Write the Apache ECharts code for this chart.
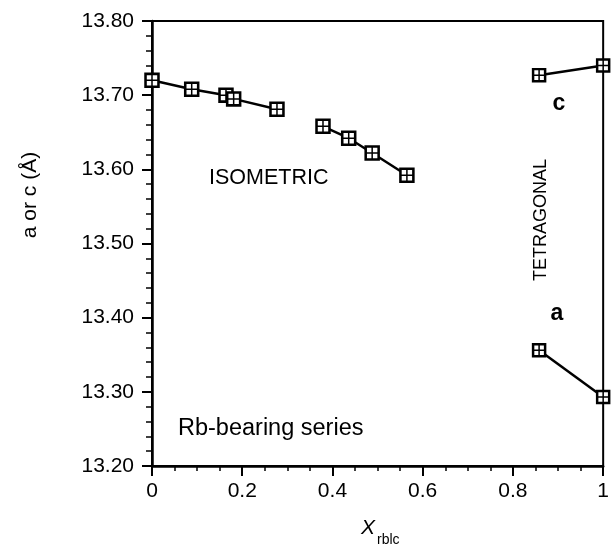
<!DOCTYPE html>
<html>
<head>
<meta charset="utf-8">
<script src="https://cdn.jsdelivr.net/npm/echarts@6/dist/echarts.min.js"></script>
<style>
html,body{margin:0;padding:0;background:#fff;}
#chart{width:612px;height:547px;}
</style>
</head>
<body>
<div id="chart"></div>
<script>
// ---- data ----
var isoX1 = [0, 0.088, 0.164, 0.181, 0.277];
var isoY1 = [13.720, 13.708, 13.700, 13.695, 13.681];
var isoX2 = [0.379, 0.436, 0.488, 0.565];
var isoY2 = [13.658, 13.642, 13.622, 13.592];
var tetX = [0.858, 1.0];
var tetC = [13.727, 13.740];
var tetA = [13.356, 13.293];
var xTickLabels = ['0', '0.2', '0.4', '0.6', '0.8', '1'];
var yTickLabels = ['13.20', '13.30', '13.40', '13.50', '13.60', '13.70', '13.80'];

function pairs(xs, ys) { return xs.map(function (x, i) { return [x, ys[i]]; }); }

var FONT = '"Liberation Sans", Arial, Helvetica, sans-serif';
var SYM = 'path://M0,0H12V12H0Z M0.9,0.9H11.1V11.1H0.9Z M6,0V12 M0,6H12';

function lineSeries(data, size) {
  return {
    type: 'line',
    data: data,
    symbol: SYM,
    symbolSize: size,
    clip: false,
    lineStyle: { color: '#000', width: 2.5 },
    itemStyle: { color: '#fff', borderColor: '#000', borderWidth: 1.5 },
    emphasis: { disabled: true },
    z: 3
  };
}

var chart = echarts.init(document.getElementById('chart'), null, { renderer: 'canvas' });
chart.setOption({
  animation: false,
  backgroundColor: '#fff',
  grid: { left: 152, right: 8, top: 21, bottom: 81, show: true, borderColor: '#000', borderWidth: 2, backgroundColor: 'transparent' },
  xAxis: {
    type: 'value', min: 0, max: 1, interval: 0.2,
    axisLine: { lineStyle: { color: '#000', width: 2.5 } },
    axisTick: { inside: false, length: 10, lineStyle: { color: '#000', width: 2 } },
    minorTick: { show: true, splitNumber: 4, length: 5, lineStyle: { color: '#000', width: 1.5 } },
    splitLine: { show: false },
    axisLabel: {
      margin: 15, color: '#000', fontSize: 21, fontFamily: FONT,
      formatter: function (v) { return xTickLabels[Math.round(v / 0.2)]; }
    }
  },
  yAxis: {
    type: 'value', min: 13.2, max: 13.8, interval: 0.1,
    axisLine: { lineStyle: { color: '#000', width: 2.5 } },
    axisTick: { inside: false, length: 10, lineStyle: { color: '#000', width: 2 } },
    minorTick: { show: true, splitNumber: 5, length: 6, lineStyle: { color: '#000', width: 1.5 } },
    splitLine: { show: false },
    axisLabel: {
      margin: 18, color: '#000', fontSize: 21, fontFamily: FONT,
      formatter: function (v) { return yTickLabels[Math.round((v - 13.2) / 0.1)]; }
    }
  },
  series: [
    lineSeries(pairs(isoX1, isoY1), 14),
    lineSeries(pairs(isoX2, isoY2), 14),
    lineSeries(pairs(tetX, tetC), 13),
    lineSeries(pairs(tetX, tetA), 13)
  ],
  graphic: [
    { type: 'text', x: 30, y: 195, rotation: Math.PI / 2,
      style: { text: 'a or c (Å)', font: '21px ' + FONT, fill: '#000', align: 'center', verticalAlign: 'middle' } },
    { type: 'text', x: 361, y: 539,
      style: { text: 'X', font: 'italic 21px ' + FONT, fill: '#000', align: 'left', verticalAlign: 'bottom' } },
    { type: 'text', x: 377, y: 547,
      style: { text: 'rblc', font: '14px ' + FONT, fill: '#000', align: 'left', verticalAlign: 'bottom' } },
    { type: 'text', x: 209, y: 178,
      style: { text: 'ISOMETRIC', font: '21.5px ' + FONT, fill: '#000', align: 'left', verticalAlign: 'middle' } },
    { type: 'text', x: 178, y: 429,
      style: { text: 'Rb-bearing series', font: '23.5px ' + FONT, fill: '#000', align: 'left', verticalAlign: 'middle' } },
    { type: 'text', x: 541, y: 220, rotation: Math.PI / 2,
      style: { text: 'TETRAGONAL', font: '18px ' + FONT, fill: '#000', align: 'center', verticalAlign: 'middle' } },
    { type: 'text', x: 559, y: 104,
      style: { text: 'c', font: 'bold 23px ' + FONT, fill: '#000', align: 'center', verticalAlign: 'middle' } },
    { type: 'text', x: 557, y: 314,
      style: { text: 'a', font: 'bold 23px ' + FONT, fill: '#000', align: 'center', verticalAlign: 'middle' } }
  ]
});
</script>
</body>
</html>
